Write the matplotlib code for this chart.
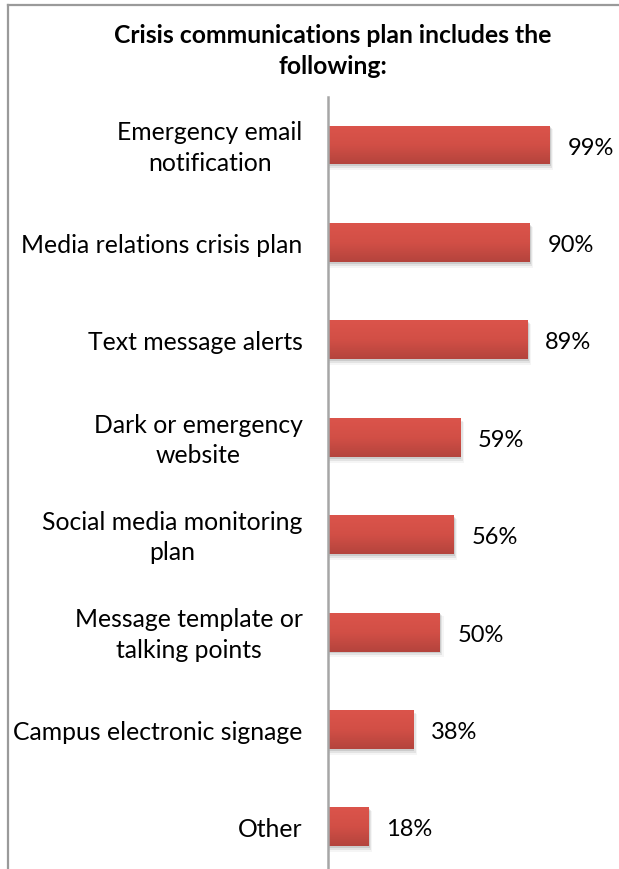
import numpy as np
import matplotlib
matplotlib.use("Agg")
import matplotlib.pyplot as plt
from matplotlib.patches import Rectangle
from matplotlib.lines import Line2D
from matplotlib.colors import LinearSegmentedColormap
from matplotlib.transforms import offset_copy

categories = [
    "Emergency email\nnotification",
    "Media relations crisis plan",
    "Text message alerts",
    "Dark or emergency\nwebsite",
    "Social media monitoring\nplan",
    "Message template or\ntalking points",
    "Campus electronic signage",
    "Other",
]
values = [99, 90, 89, 59, 56, 50, 38, 18]
title = "Crisis communications plan includes the\nfollowing:"

W, H = 619, 869
fig = plt.figure(figsize=(W / 100, H / 100), dpi=100)
fig.patch.set_facecolor("white")

# outer chart frame (left and top edges)
fx, fy = 8 / W, 1 - 5 / H
fig.add_artist(Line2D([fx, fx], [0, fy], transform=fig.transFigure,
                      color="#9a9a9a", linewidth=1.6))
fig.add_artist(Line2D([fx, 1], [fy, fy], transform=fig.transFigure,
                      color="#9a9a9a", linewidth=1.6))

ax = fig.add_axes([328 / W, 0, (W - 328) / W, (H - 97) / H])
for s in ["top", "right", "bottom"]:
    ax.spines[s].set_visible(False)
ax.spines["left"].set_color("#a6a6a6")
ax.spines["left"].set_linewidth(1.8)
ax.set_xticks([])
ax.set_yticks([])
ax.patch.set_alpha(0)
ax.set_xlim(0, 130)
ax.set_ylim(7.433, -0.493)

grad = LinearSegmentedColormap.from_list("bar", ["#db544b", "#d24f46", "#b4443d"])
gimg = np.linspace(0, 1, 100).reshape(-1, 1)
bh = 0.40
ys = np.arange(len(values))
txt_tr = offset_copy(ax.transData, fig=fig, x=0, y=-3, units="dots")

bars = ax.barh(ys, values, height=bh, color="none", edgecolor="none")
for y, v, b in zip(ys, values, bars):
    # soft drop shadow
    for k, a in enumerate([0.10, 0.07, 0.04]):
        d = 0.6 + k * 0.5
        ax.add_patch(Rectangle((0, y - bh / 2 + 0.02 + k * 0.01), v + d, bh + 0.01 * k,
                               facecolor="black", alpha=a, edgecolor="none", zorder=1))
    im = ax.imshow(gimg, cmap=grad, aspect="auto",
                   extent=(0, v, y + bh / 2, y - bh / 2), zorder=2)
    im.set_clip_path(b)
    ax.text(v + 8, y, f"{v}%", va="center", ha="left", fontsize=17,
            family="Lato", color="black", transform=txt_tr)
    ax.text(-11.3, y, categories[y], va="center", ha="right", ma="center",
            fontsize=17.8, family="Lato", color="black", linespacing=1.38,
            transform=txt_tr)
ax.set_xlim(0, 130)
ax.set_ylim(7.433, -0.493)

fig.text(333 / W, 1 - 51 / H, title, ha="center", va="center", fontsize=17.8,
         fontweight="bold", family="Lato", linespacing=1.4)

fig.savefig("out.png", dpi=100)
